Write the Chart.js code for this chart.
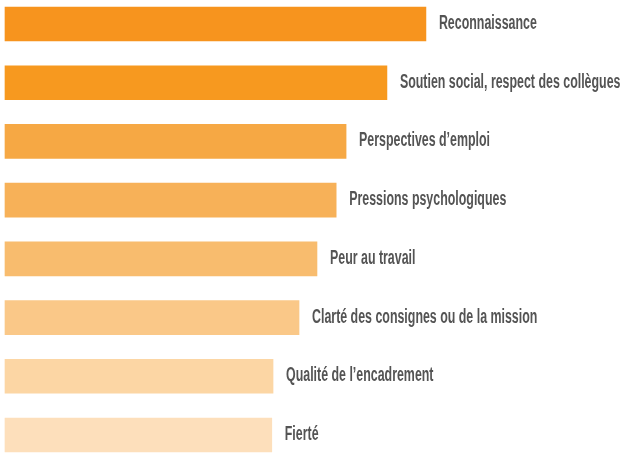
<!DOCTYPE html>
<html>
<head>
<meta charset="utf-8">
<script src="https://cdn.jsdelivr.net/npm/chart.js@4"></script>
<style>
  html, body { margin: 0; padding: 0; background: #fff; }
  #wrap { width: 629px; height: 464px; }
</style>
</head>
<body>
<div id="wrap"><canvas id="barChart"></canvas></div>
<script>
// categories, top to bottom
var labels = [
  'Reconnaissance',
  'Soutien social, respect des collègues',
  'Perspectives d\u2019emploi',
  'Pressions psychologiques',
  'Peur au travail',
  'Clarté des consignes ou de la mission',
  'Qualité de l\u2019encadrement',
  'Fierté'
];

// bar lengths (estimated, % of full width)
var values = [68.0, 61.7, 55.1, 53.5, 50.4, 47.5, 43.3, 43.1];

// one shade per bar, dark orange to light peach
var colors = ['#F7941E', '#F7991F', '#F6A844', '#F7B158', '#F8BC6E', '#FAC888', '#FCD6A4', '#FDDFBB'];

// labels written just right of every bar end
var endLabels = {
  id: 'endLabels',
  afterDatasetsDraw: function(chart) {
    var ctx = chart.ctx;
    var meta = chart.getDatasetMeta(0);
    ctx.save();
    ctx.fillStyle = '#545454';
    ctx.font = 'bold 20px "Liberation Sans", Arial, sans-serif';
    ctx.textBaseline = 'alphabetic';
    ctx.textAlign = 'left';
    meta.data.forEach(function(bar, i) {
      ctx.save();
      ctx.translate(bar.x + 13, bar.y + 5);
      ctx.scale(0.62, 1);
      ctx.fillText(chart.data.labels[i], 0, 0);
      ctx.restore();
    });
    ctx.restore();
  }
};

var ctx = document.getElementById('barChart').getContext('2d');
var chart = new Chart(ctx, {
    type: 'bar',
    data: {
        labels: labels,
        datasets: [{
            data: values,
            backgroundColor: colors,
            borderWidth: 0,
            barThickness: 34,
            clip: false
        }]
    },
    options: {
        indexAxis: 'y',
        responsive: true,
        maintainAspectRatio: false,
        animation: false,
        layout: {
            padding: { left: 5, right: 5, top: 24, bottom: 29 }
        },
        scales: {
            x: { display: false, min: 0, max: 100 },
            y: { display: false, offset: false }
        },
        plugins: {
            legend: { display: false },
            tooltip: { enabled: false }
        }
    },
    plugins: [endLabels]
});
</script>
</body>
</html>
